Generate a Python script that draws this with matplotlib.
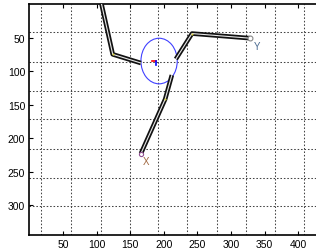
import matplotlib.pyplot as plt
from matplotlib.patches import Ellipse

plt.rcParams['font.family'] = ['Liberation Sans', 'DejaVu Sans']

# skeleton arms (image coords, y down)
arm_top_x = [106, 124, 166]
arm_top_y = [-6, 75, 88]
arm_right_x = [218, 242, 329]
arm_right_y = [82, 44, 51]
arm_low_x = [212, 202, 166]
arm_low_y = [106, 142, 223]

# ellipse around the centre
centre = (193, 85)
ell_w, ell_h = 54, 68

# grid lines drawn on the image
grid_x = [18, 62, 106, 150, 191, 235, 279, 322, 365, 408]
grid_y = [41.5, 85.7, 129, 172, 215.6, 258.8, 302]

xticks = [50, 100, 150, 200, 250, 300, 350, 400]
yticks = [50, 100, 150, 200, 250, 300]

fig = plt.figure(figsize=(3.16, 2.53), dpi=100)
ax = fig.add_axes([0.093, 0.067, 0.907, 0.913])

for g in grid_x:
    ax.axvline(g, color='#444444', lw=0.75, ls=(0, (1.5, 1.8)), zorder=1)
for g in grid_y:
    ax.axhline(g, color='#444444', lw=0.75, ls=(0, (1.5, 1.8)), zorder=1)

for xs, ys in [(arm_top_x, arm_top_y), (arm_right_x, arm_right_y), (arm_low_x, arm_low_y)]:
    ax.plot(xs, ys, color='#111111', lw=3.3, solid_capstyle='butt', zorder=3)
    ax.plot(xs, ys, color='#e8e8e8', lw=0.8, solid_capstyle='butt', zorder=4)
    ax.plot(xs[1:-1], ys[1:-1], 'o', ms=1.5, color='#d8d040', mec='none', zorder=5)

ax.add_patch(Ellipse(centre, ell_w, ell_h, fill=False, ec='#4040ff', lw=0.8, zorder=2))
ax.plot([centre[0] - 4, centre[0] - 10], [centre[1], centre[1]], color='red', lw=1.2, zorder=5)
ax.plot([centre[0] - 4, centre[0] - 4], [centre[1], centre[1] + 6], color='blue', lw=1.2, zorder=5)

ax.plot(arm_right_x[-1], arm_right_y[-1], 'o', ms=3.5, mfc='white', mec='#888888', mew=0.8, zorder=6)
ax.plot(arm_low_x[-1], arm_low_y[-1], 'o', ms=3, mfc='white', mec='#905090', mew=0.8, zorder=6)
ax.text(arm_right_x[-1] + 10, arm_right_y[-1] + 12, 'Y', color='#4a6a90', fontsize=7, ha='center', va='center')
ax.text(arm_low_x[-1] + 8, arm_low_y[-1] + 11, 'X', color='#a06840', fontsize=7, ha='center', va='center')

ax.set_xlim(0, 426.5)
ax.set_ylim(344.6, 0)
ax.set_xticks(xticks)
ax.set_yticks(yticks)
ax.tick_params(direction='in', length=3, width=0.8, labelsize=7.5, top=True, pad=3)
ax.spines['right'].set_visible(False)
for s in ['left', 'bottom', 'top']:
    ax.spines[s].set_linewidth(1.2)

fig.savefig('out.png', dpi=100)
